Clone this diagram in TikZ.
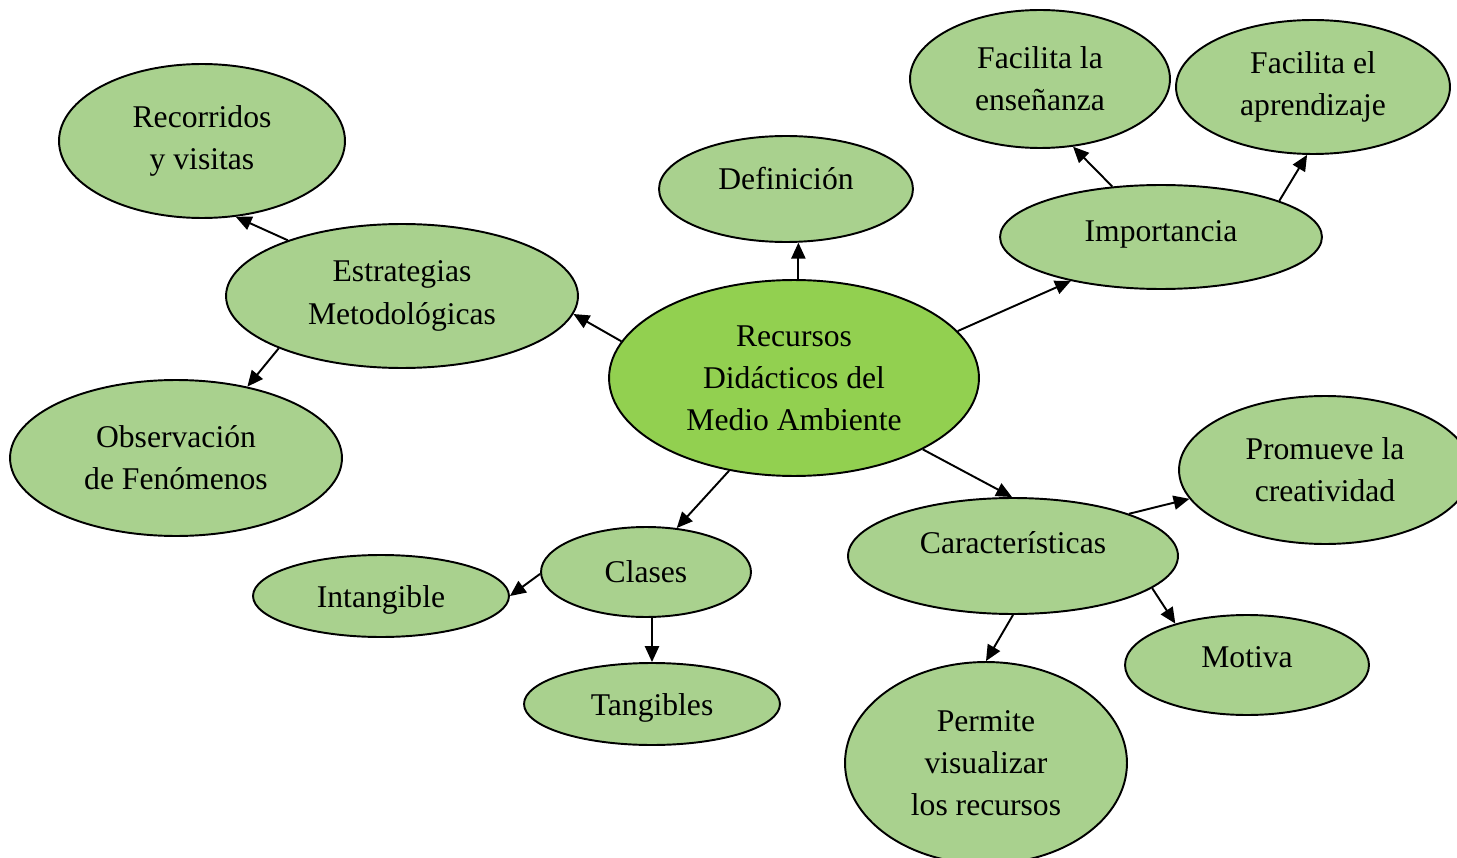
\documentclass[tikz,border=0pt]{standalone}
\usepackage{fontspec}
\setmainfont{Liberation Serif}
\usetikzlibrary{shapes.geometric,arrows.meta}
\definecolor{verdeclaro}{HTML}{A9D18E}
\definecolor{verdecentro}{HTML}{92D050}
\tikzstyle{burbuja}=[ellipse,draw=black,line width=1.1pt,fill=verdeclaro,inner sep=0pt,align=center,font=\fontsize{18}{24}\selectfont]
\tikzstyle{flecha}=[-{Triangle[length=9pt,width=8pt]},line width=1.1pt]

\begin{document}
\begin{tikzpicture}[x=0.02cm,y=-0.02cm]
	  \clip (0,0) rectangle (1457,858);
	  % centro
	  \node[burbuja,fill=verdecentro,minimum width=7.4cm,minimum height=3.92cm] (recursos) at (794,378) {Recursos\\Didácticos del\\Medio Ambiente};
	  % rama izquierda
	  \node[burbuja,minimum width=7.04cm,minimum height=2.88cm] (estrategias) at (402,296) {Estrategias\\Metodológicas};
	  \node[burbuja,minimum width=5.72cm,minimum height=3.08cm] (recorridos) at (202,141) {Recorridos\\y visitas};
	  \node[burbuja,minimum width=6.64cm,minimum height=3.12cm] (observacion) at (176,458) {Observación\\de Fenómenos};
	  % arriba
	  \node[burbuja,text depth=12pt,minimum width=5.08cm,minimum height=2.12cm] (definicion) at (786,189) {Definición};
	  \node[burbuja,text depth=7pt,minimum width=6.44cm,minimum height=2.08cm] (importancia) at (1161,237) {Importancia};
	  \node[burbuja,minimum width=5.2cm,minimum height=2.76cm] (ensenanza) at (1040,79) {Facilita la\\enseñanza};
	  \node[burbuja,minimum width=5.48cm,minimum height=2.68cm] (aprendizaje) at (1313,87) {Facilita el\\aprendizaje};
	  % rama derecha
	  \node[burbuja,text depth=15pt,minimum width=6.6cm,minimum height=2.32cm] (caracteristicas) at (1013,556) {Características};
	  \node[burbuja,minimum width=5.84cm,minimum height=2.96cm] (creatividad) at (1325,470) {Promueve la\\creatividad};
	  \node[burbuja,text depth=9pt,minimum width=4.88cm,minimum height=2cm] (motiva) at (1247,665) {Motiva};
	  \node[burbuja,minimum width=5.64cm,minimum height=4.04cm] (visualizar) at (986,763) {Permite\\visualizar\\los recursos};
	  % abajo
	  \node[burbuja,minimum width=4.2cm,minimum height=1.8cm] (clases) at (646,572) {Clases};
	  \node[burbuja,text height=17pt,minimum width=5.12cm,minimum height=1.64cm] (intangible) at (381,596) {Intangible};
	  \node[burbuja,text height=17pt,minimum width=5.12cm,minimum height=1.64cm] (tangibles) at (652,704) {Tangibles};

	  \draw[flecha] (recursos.168) -- (estrategias.-6);
	  \draw[flecha] (estrategias.154) -- (recorridos.-66);
	  \draw[flecha] (estrategias.-157) -- (observacion.45);
	  \draw[flecha] (definicion.-77 |- recursos.north) -- (definicion.-77);
	  \draw[flecha] (recursos.16) -- (importancia.-154);
	  \draw[flecha] (importancia.134) -- (ensenanza.-64);
	  \draw[flecha] (importancia.17) -- (aprendizaje.-95);
	  \draw[flecha] (recursos.-29) -- (caracteristicas.91);
	  \draw[flecha] (caracteristicas.20) -- (creatividad.-168);
	  \draw[flecha] (caracteristicas.-13) -- (motiva.150);
	  \draw[flecha] (caracteristicas.-90) -- (visualizar.90);
	  \draw[flecha] (recursos.-125) -- (clases.55);
	  \draw[flecha] (clases.181) -- (intangible.0);
	  \draw[flecha] (tangibles.north |- clases.south) -- (tangibles.north);
	\end{tikzpicture}
\end{document}
